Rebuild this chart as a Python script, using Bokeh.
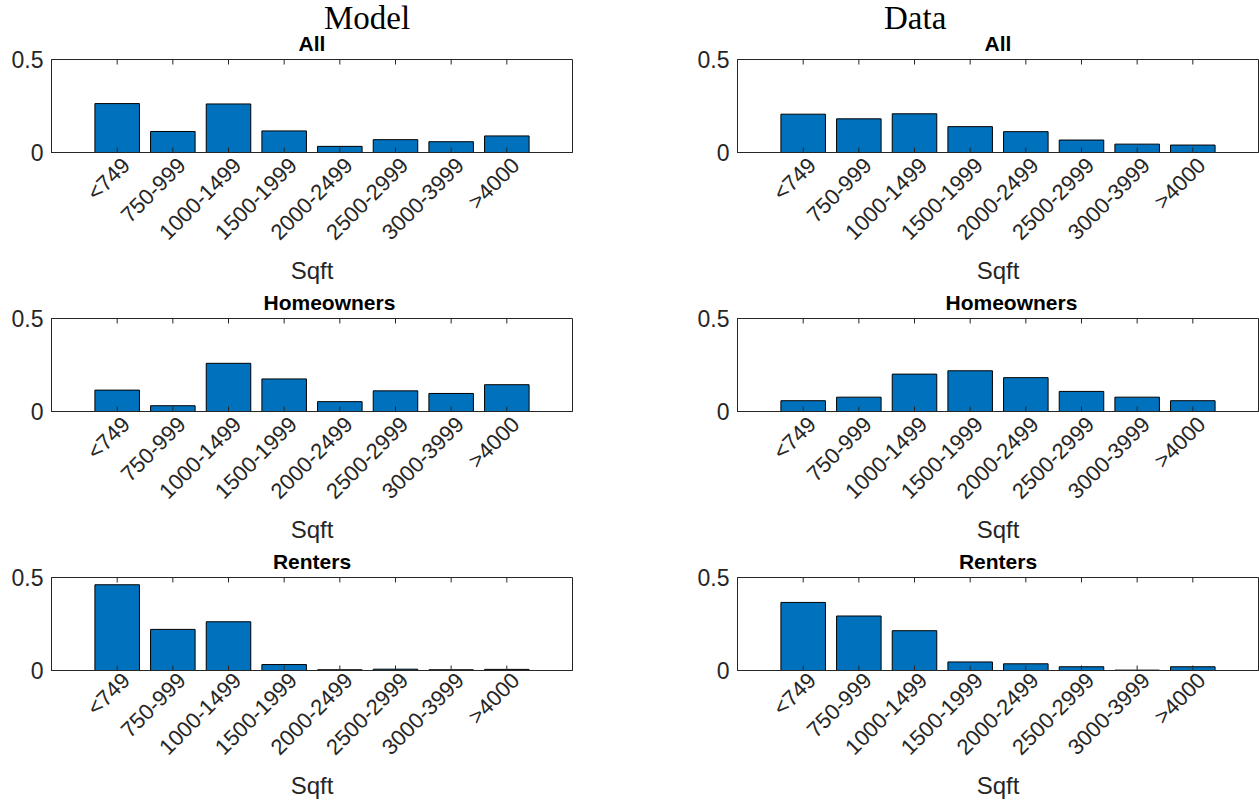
import math
from bokeh.plotting import figure
from bokeh.models import Range1d, FixedTicker, Title, Div, LinearAxis
from bokeh.layouts import column, row
from bokeh.embed import file_html
from bokeh.resources import INLINE

sqft_bins = ["<749", "750-999", "1000-1499", "1500-1999",
             "2000-2499", "2500-2999", "3000-3999", ">4000"]
model_all = [0.263, 0.113, 0.261, 0.116, 0.033, 0.069, 0.058, 0.089]
data_all = [0.206, 0.181, 0.208, 0.139, 0.112, 0.067, 0.045, 0.040]
model_home = [0.115, 0.031, 0.259, 0.175, 0.053, 0.111, 0.097, 0.144]
data_home = [0.058, 0.077, 0.201, 0.219, 0.182, 0.108, 0.077, 0.058]
model_rent = [0.461, 0.221, 0.262, 0.032, 0.004, 0.007, 0.004, 0.006]
data_rent = [0.366, 0.293, 0.214, 0.046, 0.036, 0.020, 0.002, 0.020]
y_ticks = [0, 0.5]
y_tick_labels = ["0", "0.5"]
panel_titles = ["All", "Homeowners", "Renters"]
column_titles = ["Model", "Data"]
x_label = "Sqft"

BAR = "#0072BD"
AX = "#262626"
FONT = "Liberation Sans"

col_w = [(654, 51, 82), (605, 83, 1)]
row_h = [(262, 35, 134), (259, 32, 134), (256, 32, 131)]
label_standoff = [3, 3, 0]
# (align, offset) of each panel title; offsets used only for left alignment
title_place = [("center", 0), ("left", 212), ("center", 0)]
head_h = 24
col_title_left = [324, 230]
pad = 1.18          # x-axis room either side of the outer bars, in bar slots
label_shift = 0.16  # rotated tick labels sit a little to the right of their ticks


def make_panel(vals, ri, ci):
    W, bl, br = col_w[ci]
    H, bt, bb = row_h[ri]
    n = len(sqft_bins)
    x_pos = list(range(1, n + 1))
    y_max = y_ticks[-1]
    p = figure(width=W, height=H, x_range=Range1d(1 - pad, n + pad),
               y_range=Range1d(y_ticks[0], y_max), output_backend="svg",
               toolbar_location=None, title=None, x_axis_location=None,
               min_border_left=bl, min_border_right=br,
               min_border_top=bt, min_border_bottom=bb)
    p.extra_x_ranges = {"lab": Range1d(1 - pad - label_shift, n + pad - label_shift)}
    p.vbar(x=x_pos, top=vals, width=0.8, fill_color=BAR, line_color="black", line_width=1)
    # inward tick marks on the top and bottom edges of the box
    for yv in (y_ticks[0], y_max):
        p.scatter(x=x_pos, y=[yv] * n, marker="dash", angle=math.pi / 2,
                  size=10, line_color=AX, line_width=1)
    p.xgrid.visible = False
    p.ygrid.visible = False
    p.outline_line_color = AX
    p.outline_line_width = 1
    p.background_fill_color = "white"
    p.border_fill_alpha = 0

    xa = LinearAxis(x_range_name="lab", ticker=FixedTicker(ticks=x_pos),
                    major_label_overrides={k: s for k, s in zip(x_pos, sqft_bins)})
    xa.major_label_orientation = math.pi / 4
    xa.major_label_text_font = FONT
    xa.major_label_text_font_size = "22px"
    xa.major_label_text_color = AX
    xa.major_tick_line_color = None
    xa.minor_tick_line_color = None
    xa.axis_line_color = AX
    xa.major_label_standoff = label_standoff[ri]
    xa.axis_label = x_label
    xa.axis_label_text_font = FONT
    xa.axis_label_text_font_size = "24px"
    xa.axis_label_text_font_style = "normal"
    xa.axis_label_text_color = AX
    xa.axis_label_standoff = 0
    p.add_layout(xa, "below")

    ya = p.yaxis[0]
    ya.ticker = FixedTicker(ticks=y_ticks)
    ya.major_label_overrides = {t: s for t, s in zip(y_ticks, y_tick_labels)}
    ya.major_label_text_font = FONT
    ya.major_label_text_font_size = "23px"
    ya.major_label_text_color = AX
    ya.major_tick_in = 5
    ya.major_tick_out = 0
    ya.major_tick_line_color = AX
    ya.axis_line_color = AX
    ya.minor_tick_line_color = None
    ya.major_label_standoff = 8

    align, off = title_place[ri]
    if ci == 1 and align == "left":
        off -= 4
    t = Title(text=panel_titles[ri], align=align, offset=off, text_font=FONT,
              text_font_size="21px", text_font_style="bold", text_color="black",
              standoff=6, vertical_align="top")
    p.add_layout(t, "above")
    return p


def head(ci):
    W = col_w[ci][0]
    html = ('<div style="padding-left:%dpx; padding-top:2px; font-family:\'Liberation Serif\'; '
            'font-size:33px; line-height:33px; color:black; white-space:nowrap;">%s</div>'
            % (col_title_left[ci], column_titles[ci]))
    return Div(text=html, width=W, height=head_h, margin=(0, 0, 0, 0),
               styles={"overflow": "visible"})


series = [[model_all, data_all], [model_home, data_home], [model_rent, data_rent]]
rows = [row([head(0), head(1)], spacing=0)]
for ri in range(3):
    rows.append(row([make_panel(series[ri][ci], ri, ci) for ci in range(2)], spacing=0))
layout = column(rows, spacing=0)

open("out.html", "w").write(file_html(layout, INLINE))
